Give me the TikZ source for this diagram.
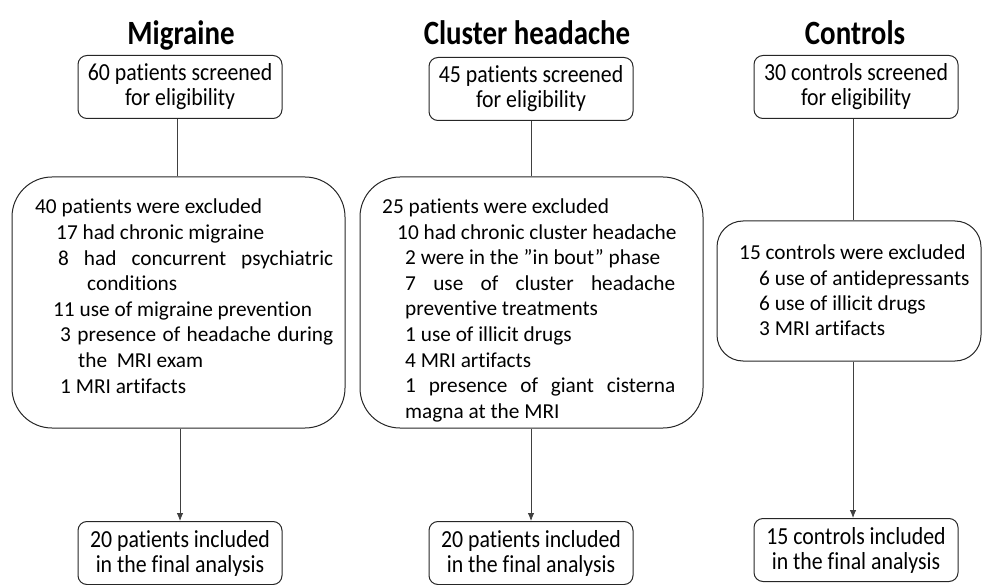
\documentclass[tikz,border=0pt]{standalone}
\usepackage{fontspec}
\setmainfont[Ligatures={TeX,NoCommon}]{Carlito}
\newfontfamily\condfont[FakeStretch=0.89,Ligatures={TeX,NoCommon}]{Carlito}
\newfontfamily\titlefont[FakeStretch=0.85,Ligatures={TeX,NoCommon}]{Carlito}
\usetikzlibrary{arrows.meta}
\tikzset{
  smallbox/.style={draw=black!85, line width=1pt, rounded corners=9pt, minimum width=204pt, minimum height=63pt, inner sep=0pt, align=center, font=\condfont\fontsize{24.5}{25}\selectfont},
  bigbox/.style={draw=black!85, line width=1pt, rounded corners=40pt, inner sep=0pt},
  txt/.style={anchor=base west, inner sep=0pt, font=\fontsize{21.3}{25}\selectfont},
  conn/.style={draw=black!75, line width=0.8pt},
  arr/.style={conn, -{Latex[length=8pt,width=6.5pt]}},
  ttl/.style={anchor=base, inner sep=0pt, font=\titlefont\bfseries\fontsize{34}{36}\selectfont}
}
\begin{document}
\begin{tikzpicture}[x=1pt,y=-1pt]
\useasboundingbox (0,0) rectangle (982,585);
% titles
\node[ttl] (tm) at (181,45) {Migraine};
\node[ttl] (tc) at (527,45) {Cluster headache};
\node[ttl] (tk) at (855,45) {Controls};
% top boxes
\node[smallbox] (mt) at (180,87) {60 patients screened\\for eligibility};
\node[smallbox] (ct) at (531,89) {45 patients screened\\for eligibility};
\node[smallbox] (kt) at (856,87) {30 controls screened\\for eligibility};
% middle boxes
\node[bigbox, minimum width=333pt, minimum height=251pt] (mm) at (178.5,302.5) {};
\node[bigbox, minimum width=343pt, minimum height=251pt] (cm) at (531.5,302.5) {};
\node[bigbox, rounded corners=26pt, minimum width=264pt, minimum height=140pt] (km) at (849,291) {};
% bottom boxes
\node[smallbox] (mb) at (180,553) {20 patients included\\in the final analysis};
\node[smallbox] (cb) at (531,553) {20 patients included\\in the final analysis};
\node[smallbox] (kb) at (856,550) {15 controls included\\in the final analysis};
% migraine text
\node[txt] (m1) at (35,214) {40 patients were excluded};
\node[txt] (m2) at (56,239.6) {17 had chronic migraine};
\node[txt] (m3) at (58,265.1) {\makebox[275pt][s]{8 had concurrent psychiatric}};
\node[txt] (m4) at (87,290.7) {conditions};
\node[txt] (m5) at (53,316.3) {11 use of migraine prevention};
\node[txt] (m6) at (60,341.9) {\makebox[273pt][s]{3 presence of headache during}};
\node[txt] (m7) at (78,367.4) {the\ \ MRI exam};
\node[txt] (m8) at (60,393) {1 MRI artifacts};
% cluster text
\node[txt] (c1) at (382,214) {25 patients were excluded};
\node[txt] (c2) at (397,239.5) {10 had chronic cluster headache};
\node[txt] (c3) at (405,265) {2 were in the \symbol{34}in bout\symbol{34} phase};
\node[txt] (c4) at (405,290.5) {\makebox[270pt][s]{7 use of cluster headache}};
\node[txt] (c5) at (405,316) {preventive treatments};
\node[txt] (c6) at (405,341.5) {1 use of illicit drugs};
\node[txt] (c7) at (405,367) {4 MRI artifacts};
\node[txt] (c8) at (405,392.5) {\makebox[270pt][s]{1 presence of giant cisterna}};
\node[txt] (c9) at (405,418) {magna at the MRI};
% controls text
\node[txt] (k1) at (739,260) {15 controls were excluded};
\node[txt] (k2) at (759,285) {6 use of antidepressants};
\node[txt] (k3) at (759,310) {6 use of illicit drugs};
\node[txt] (k4) at (759,335) {3 MRI artifacts};
% connectors
\draw[conn] ([xshift=-3pt]mt.south) -- ([xshift=-3pt]mt.south |- mm.north);
\draw[conn] (ct.south) -- (ct.south |- cm.north);
\draw[conn] ([xshift=-3pt]kt.south) -- ([xshift=-3pt]kt.south |- km.north);
\draw[arr] (mb.north |- mm.south) -- (mb.north);
\draw[arr] (cb.north |- cm.south) -- (cb.north);
\draw[arr] ([xshift=-3pt]kb.north |- km.south) -- ([xshift=-3pt]kb.north);
\end{tikzpicture}
\end{document}
